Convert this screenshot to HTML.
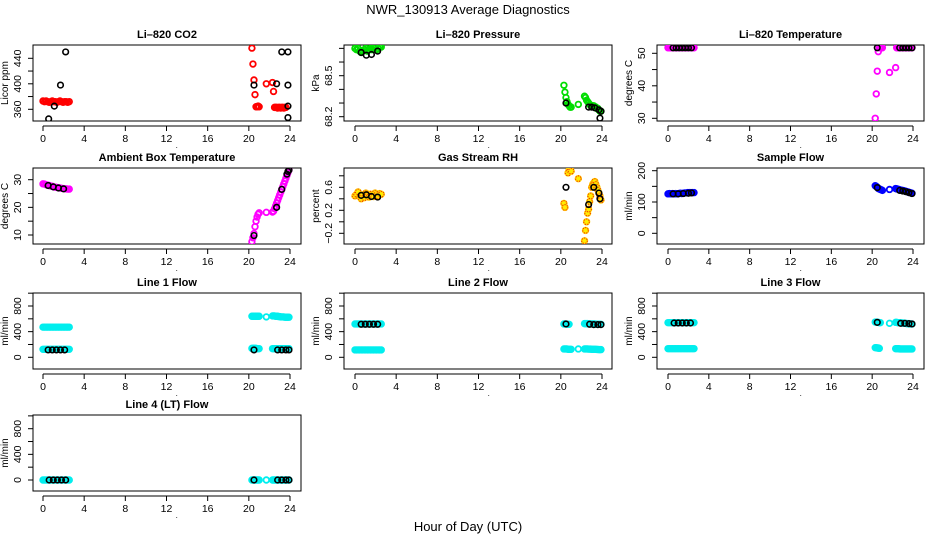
<!DOCTYPE html>
<html><head><meta charset="utf-8"><style>
html,body{margin:0;padding:0;background:#fff;}
svg{display:block;font-family:"Liberation Sans",Arial,sans-serif;}
</style></head><body>
<svg id="chart" width="936" height="540" viewBox="0 0 936 540">
<text x="468" y="14" text-anchor="middle" font-size="13">NWR_130913  Average Diagnostics</text>
<text x="468" y="531" text-anchor="middle" font-size="13">Hour of Day (UTC)</text>
</svg>
<script>
const hours = [0,0.15,0.3,0.45,0.6,0.75,0.9,1.05,1.2,1.35,1.5,1.65,1.8,1.95,2.1,2.25,2.4,2.55,
 20.3,20.4,20.5,20.6,20.7,20.8,20.9,21.0, 21.7,
 22.3,22.4,22.5,22.6,22.7,22.8,22.9,23.0,23.1,23.2,23.3,23.4,23.5,23.6,23.7,23.8,23.9];
const xTicks = [0,4,8,12,16,20,24];

const co2Vals = [373,372,373,372,371,372,373,372,372,371,372,373,372,371,372,372,371,372,
 456,431,406,383,364,364,365,364, 400,
 402,388,363,363,363,362,363,363,362,363,363,362,363,363,null,null,null];
const co2BlackH = [0.55,1.1,1.7,2.2,20.5,22.7,23.2,23.8,23.8,23.8,23.8];
const co2BlackV = [345,365,398,450,398,400,450,450,398,365,347];

const presVals = [68.70,68.69,68.70,68.68,68.67,68.68,68.69,68.70,68.68,68.69,68.70,68.69,68.70,68.71,68.69,68.70,68.71,68.71,
 68.43,68.38,68.34,68.31,68.29,68.28,68.27,68.27, 68.29,
 68.35,68.34,68.32,68.31,68.30,68.29,68.28,68.28,68.28,68.28,68.27,68.27,68.26,68.26,68.25,68.24,68.24];
const presBlackH = [0.6,1.1,1.6,2.2,20.5,22.7,23.0,23.3,23.7,23.8,23.9];
const presBlackV = [68.67,68.65,68.655,68.68,68.30,68.27,68.27,68.265,68.25,68.19,68.24];

const tempVals = [51.7,51.7,51.7,51.7,51.7,51.7,51.7,51.7,51.7,51.7,51.7,51.7,51.7,51.7,51.7,51.7,51.7,51.7,
 30,37.5,44.5,50.5,51.7,51.7,51.7,51.7, 44.1,
 45.6,51.7,51.7,51.7,51.7,51.7,51.7,51.7,51.7,51.7,51.7,51.7,51.7,51.7,51.7,51.7,51.7];
const tempBlackH = [0.5,0.8,1.1,1.4,1.7,2.0,2.3,20.5,22.7,23.0,23.3,23.6,23.9];
const tempBlackV = [51.7,51.7,51.7,51.7,51.7,51.7,51.7,51.7,51.7,51.7,51.7,51.7,51.7];

const ambVals = [28.5,28.4,28.2,28.0,27.9,27.7,27.6,27.4,27.3,27.2,27.1,27.0,26.9,26.8,26.7,26.7,26.6,26.6,
 7.6,9,10.5,13,15,16.5,17.5,18, 18.2,
 18.3,18.6,19.5,20.5,21.5,22.5,23.5,24.5,25.5,26.5,27.5,28.5,29.5,30.5,31.5,32.5,33.5];
const ambBlackH = [0.5,1.0,1.5,2.0,20.5,22.7,23.2,23.7,23.8,23.9];
const ambBlackV = [27.9,27.4,27.0,26.7,9.8,20,26.5,32,33,33.5];

const rhVals = [0.45,0.48,0.52,0.44,0.40,0.47,0.42,0.50,0.45,0.43,0.48,0.46,0.44,0.50,0.47,0.45,0.49,0.48,
 0.32,0.25,null,null,0.85,0.90,0.92,0.88, 0.75,
 -0.33,-0.15,0.0,0.15,0.22,0.35,0.45,0.60,0.65,0.68,0.70,0.65,0.60,0.55,0.50,0.45,0.38];
const rhBlackH = [0.6,1.1,1.6,2.2,20.5,22.7,23.2,23.7,23.8];
const rhBlackV = [0.46,0.47,0.44,0.43,0.60,0.30,0.60,0.50,0.40];

const sampVals = [126,127,126,127,126,127,126,127,128,127,128,129,129,130,130,130,130,130,
 152,150,147,143,142,140,139,137, 140,
 143,142,141,140,139,138,137,137,136,135,134,133,132,131,130,129,128];
const sampBlackH = [0.5,1.0,1.5,2.0,2.3,20.5,22.7,23.0,23.3,23.6,23.9];
const sampBlackV = [126,126,127,128,129,146,137,135,133,130,127];

const l1Upper = [470,470,470,470,470,470,470,470,470,470,470,470,470,470,470,470,470,470,
 640,640,640,640,640,640,640,640, 630,
 645,645,645,640,640,640,635,635,630,630,630,630,625,625,625,625,625];
const l1Lower = [125,125,125,125,125,125,125,125,125,125,125,125,125,125,125,125,125,125,
 140,140,140,140,140,135,135,135, null,
 135,135,135,135,135,135,135,135,135,135,135,135,135,135,135,135,135];
const l1BlackH = [0.5,0.9,1.3,1.7,2.1,20.5,22.8,23.2,23.6,23.9];
const l1BlackV = [115,115,115,115,115,115,115,115,115,115];

const l2Upper = [520,520,520,520,520,520,520,520,520,520,520,520,520,520,520,520,520,520,
 520,520,520,515,515,515,null,null, null,
 525,525,525,525,520,520,520,520,520,520,520,515,515,515,515,515,515];
const l2Lower = [115,115,115,115,115,115,115,115,115,115,115,115,115,115,115,115,115,115,
 130,130,130,130,125,125,125,125, 130,
 130,130,130,130,128,128,128,125,125,125,125,125,122,122,120,120,120];
const l2BlackH = [0.6,1.0,1.4,1.8,2.2,20.5,22.8,23.2,23.6,23.9];
const l2BlackV = [515,515,515,515,515,520,515,510,510,510];

const l3Upper = [540,540,540,540,540,540,540,540,540,540,540,540,540,540,540,540,540,540,
 550,550,545,545,540,540,null,null, 530,
 545,545,540,540,540,535,535,535,530,530,530,525,525,525,520,520,520];
const l3Lower = [135,135,135,135,135,135,135,135,135,135,135,135,135,135,135,135,135,135,
 150,150,145,145,140,null,null,null, null,
 135,135,135,135,130,130,130,130,130,130,130,130,130,130,130,130,130];
const l3BlackH = [0.6,1.0,1.4,1.8,2.2,20.5,22.8,23.2,23.6,23.9];
const l3BlackV = [535,535,535,535,535,545,530,530,525,520];

const l4Vals = [0,0,0,0,0,0,0,0,0,0,0,0,0,0,0,0,0,0,
 0,0,0,0,0,0,0,0, 0,
 0,0,0,0,0,0,0,0,0,0,0,0,0,0,0,0,0];
const l4BlackH = [0.6,1.0,1.4,1.8,2.2,20.5,22.8,23.2,23.6,23.9];
const l4BlackV = [0,0,0,0,0,0,0,0,0,0];

const NS = "http://www.w3.org/2000/svg";
const svg = document.getElementById('chart');
function mk(tag, attrs, parent){
  const e = document.createElementNS(NS, tag);
  for (const k in attrs) e.setAttribute(k, attrs[k]);
  (parent||svg).appendChild(e);
  return e;
}
const cols = [{bx:33,bw:268,x0:43,x24:290},{bx:344,bw:268,x0:355,x24:602},{bx:657,bw:267,x0:668,x24:913}];
const rowTops = [45,168,293,415];
const BH = 76;

const panels = [
 {name:'li820-co2', title:'Li\u2013820 CO2', ylab:'Licor ppm', c:0, r:0, ya:[360,64.3], yb:[440,13.3], ticks:[360,380,400,420,440], labels:[360,400,440],
  series:[{v:co2Vals,col:'#ff0000'}], bh:co2BlackH, bv:co2BlackV},
 {name:'li820-pressure', title:'Li\u2013820 Pressure', ylab:'kPa', c:1, r:0, ya:[68.2,71.7], yb:[68.5,30.7], ticks:[68.2,68.3,68.4,68.5,68.6,68.7], labels:[68.2,68.5],
  series:[{v:presVals,col:'#00dd00'}], bh:presBlackH, bv:presBlackV},
 {name:'li820-temperature', title:'Li\u2013820 Temperature', ylab:'degrees C', c:2, r:0, ya:[30,73.3], yb:[50,8.3], ticks:[30,35,40,45,50], labels:[30,40,50],
  series:[{v:tempVals,col:'#ff00ff'}], bh:tempBlackH, bv:tempBlackV},
 {name:'ambient-box-temperature', title:'Ambient Box Temperature', ylab:'degrees C', c:0, r:1, ya:[10,67], yb:[30,11.7], ticks:[10,15,20,25,30], labels:[10,20,30],
  series:[{v:ambVals,col:'#ff00ff'}], bh:ambBlackH, bv:ambBlackV},
 {name:'gas-stream-rh', title:'Gas Stream RH', ylab:'percent', c:1, r:1, ya:[-0.2,65.3], yb:[0.6,19.3], ticks:[-0.2,0,0.2,0.4,0.6,0.8], labels:[-0.2,0.2,0.6],
  series:[{v:rhVals,col:'#ffcc00',rh:true}], bh:rhBlackH, bv:rhBlackV},
 {name:'sample-flow', title:'Sample Flow', ylab:'ml/min', c:2, r:1, ya:[0,65.3], yb:[200,2.7], ticks:[0,50,100,150,200], labels:[0,100,200],
  series:[{v:sampVals,col:'#0000ff'}], bh:sampBlackH, bv:sampBlackV},
 {name:'line1-flow', title:'Line 1 Flow', ylab:'ml/min', c:0, r:2, ya:[0,64.3], yb:[800,13], ticks:[0,200,400,600,800,1000], labels:[0,400,800],
  series:[{v:l1Upper,col:'#00eeee'},{v:l1Lower,col:'#00eeee'}], bh:l1BlackH, bv:l1BlackV},
 {name:'line2-flow', title:'Line 2 Flow', ylab:'ml/min', c:1, r:2, ya:[0,64.3], yb:[800,13], ticks:[0,200,400,600,800,1000], labels:[0,400,800],
  series:[{v:l2Upper,col:'#00eeee'},{v:l2Lower,col:'#00eeee'}], bh:l2BlackH, bv:l2BlackV},
 {name:'line3-flow', title:'Line 3 Flow', ylab:'ml/min', c:2, r:2, ya:[0,64.3], yb:[800,13], ticks:[0,200,400,600,800,1000], labels:[0,400,800],
  series:[{v:l3Upper,col:'#00eeee'},{v:l3Lower,col:'#00eeee'}], bh:l3BlackH, bv:l3BlackV},
 {name:'line4-lt-flow', title:'Line 4 (LT) Flow', ylab:'ml/min', c:0, r:3, ya:[0,65], yb:[800,13.7], ticks:[0,200,400,600,800,1000], labels:[0,400,800],
  series:[{v:l4Vals,col:'#00eeee'}], bh:l4BlackH, bv:l4BlackV}
];

panels.forEach(p=>{
  const col = cols[p.c], top = rowTops[p.r];
  const g = mk('g',{});
  
  
  const xs = h => col.x0 + (col.x24-col.x0)*h/24;
  const ys = v => top + p.ya[1] + (v-p.ya[0])*(p.yb[1]-p.ya[1])/(p.yb[0]-p.ya[0]);
  const cp = 'clip-'+p.name;
  const cl = mk('clipPath',{id:cp},g);
  mk('rect',{x:col.bx,y:top,width:col.bw,height:BH},cl);
  const t = mk('text',{x:col.bx+col.bw/2,y:top-7,'text-anchor':'middle','font-size':11,'font-weight':'bold'},g);
  t.textContent = p.title;
  
  
  // box
  const bx = mk('rect',{x:col.bx,y:top,width:col.bw,height:BH,fill:'none',stroke:'#000','stroke-width':1},g);
  
  
  // x axis
  const ay = top+BH+5;
  const xa = mk('g',{},g);
  
  
  mk('line',{x1:xs(0),x2:xs(24),y1:ay,y2:ay,stroke:'#000'},xa);
  xTicks.forEach(h=>{
    mk('line',{x1:xs(h),x2:xs(h),y1:ay,y2:ay+5,stroke:'#000'},xa);
    const tl = mk('text',{x:xs(h),y:ay+16,'text-anchor':'middle','font-size':10.5},xa);
    tl.textContent = h;
  });
  const dot = mk('text',{x:xs(13),y:ay+22,'text-anchor':'middle','font-size':8},xa);
  dot.textContent = '.';
  // y axis
  const ya = mk('g',{},g);
  
  
  p.ticks.forEach(v=>{
    mk('line',{x1:col.bx-5,x2:col.bx,y1:ys(v),y2:ys(v),stroke:'#000'},ya);
  });
  p.labels.forEach(v=>{
    const lx = col.bx-12, lyv = ys(v);
    const tl = mk('text',{x:lx,y:lyv,'text-anchor':'middle','font-size':10.5,transform:`rotate(-90 ${lx} ${lyv})`},ya);
    tl.textContent = String(v).replace('-','\u2212');
  });
  const yt = col.bx-25, ytY = top+BH/2;
  const ylt = mk('text',{x:yt,y:ytY,'text-anchor':'middle','font-size':10,transform:`rotate(-90 ${yt} ${ytY})`},g);
  ylt.textContent = p.ylab;
  
  
  // series
  const pts = mk('g',{'clip-path':`url(#${cp})`},g);
  
  
  p.series.forEach(s=>{
    s.v.forEach((v,i)=>{
      if (v===null) return;
      const c = mk('circle',{cx:xs(hours[i]),cy:ys(v),r:2.8,fill:s.rh?'#ffee00':'none',stroke:s.col,'stroke-width':1.8},pts);
      
      
      if (s.rh) { mk('circle',{cx:xs(hours[i]),cy:ys(v),r:2.8,fill:'none',stroke:'#ee2200','stroke-width':1,'stroke-dasharray':'1 1.5'},pts); }
    });
  });
  p.bh.forEach((h,i)=>{
    const c = mk('circle',{cx:xs(h),cy:ys(p.bv[i]),r:2.8,fill:'none',stroke:'#000','stroke-width':1.6},pts);
    
    
  });
});
</script>
</body></html>
